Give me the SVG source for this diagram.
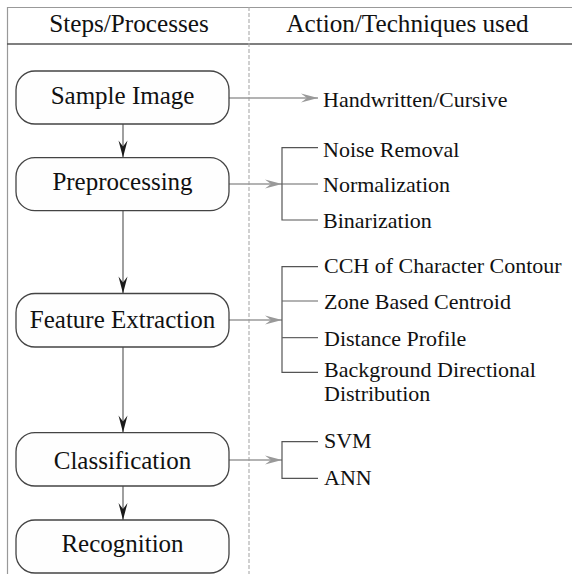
<svg xmlns="http://www.w3.org/2000/svg" width="572" height="574" viewBox="0 0 572 574" font-family="'Liberation Serif', 'Times New Roman', Tinos, 'DejaVu Serif', serif">
<style>
text{font-family:"Liberation Serif","Times New Roman",Tinos,"DejaVu Serif",serif;fill:#111}
.hd{font-size:25.2px;text-anchor:middle}
.bx{font-size:25px;text-anchor:middle}
.it{font-size:22px}
.node rect{fill:#fefefe;stroke:#444;stroke-width:1.3}
.v{stroke:#777;stroke-width:1.4;fill:none;marker-end:url(#dark)}
.h{stroke:#9a9a9a;stroke-width:1.4;fill:none;marker-end:url(#gray)}
.br{stroke:#555;stroke-width:1.2;fill:none}
.bm{stroke:#666;stroke-width:1.2;fill:none}
</style>
<defs>
<marker id="dark" markerUnits="userSpaceOnUse" viewBox="-18 -5 19 10" markerWidth="19" markerHeight="10" refX="0" refY="0" orient="auto">
<path d="M0,0 L-17,-4.5 L-11,0 L-17,4.5 Z" fill="#1a1a1a"/>
</marker>
<marker id="gray" markerUnits="userSpaceOnUse" viewBox="-18 -5 19 10" markerWidth="19" markerHeight="10" refX="0" refY="0" orient="auto">
<path d="M0,0 L-17,-4.5 L-11,0 L-17,4.5 Z" fill="#999"/>
</marker>
</defs>
<rect x="0" y="0" width="572" height="574" fill="#fff"/>
<g id="frame">
<line x1="7" y1="7.5" x2="572" y2="7.5" stroke="#999" stroke-width="1.2"/>
<line x1="7.5" y1="7" x2="7.5" y2="574" stroke="#999" stroke-width="1.2"/>
<line x1="7" y1="44" x2="572" y2="44" stroke="#555" stroke-width="1.3"/>
<line x1="249" y1="7" x2="249" y2="574" stroke="#aaa" stroke-width="1.1" stroke-dasharray="4,2"/>
<text class="hd" x="129" y="32.3">Steps/Processes</text>
<text class="hd" x="407.5" y="32.3">Action/Techniques used</text>
</g>
<g id="connectors">
<line class="v" x1="123" y1="124" x2="123" y2="157.5"/>
<line class="v" x1="123" y1="211" x2="123" y2="293.5"/>
<line class="v" x1="123" y1="347" x2="123" y2="432.5"/>
<line class="v" x1="123" y1="486" x2="123" y2="520"/>
<line class="h" x1="229" y1="98" x2="318" y2="98"/>
<line class="h" x1="229" y1="184" x2="282" y2="184"/>
<line class="h" x1="229" y1="320" x2="282" y2="320"/>
<line class="h" x1="229" y1="460" x2="282" y2="460"/>
<path class="br" d="M318,147.7 H282 V220 H318"/>
<line class="bm" x1="282" y1="184" x2="318" y2="184"/>
<path class="br" d="M318,266.7 H282 V372.3 H318"/>
<line class="bm" x1="282" y1="301" x2="318" y2="301"/>
<line class="bm" x1="282" y1="337.7" x2="318" y2="337.7"/>
<path class="br" d="M318,441.7 H282 V478.3 H318"/>
</g>
<g id="n1" class="node"><rect x="16" y="71" width="213" height="53" rx="19"/><text class="bx" x="122.5" y="104">Sample Image</text></g>
<g id="n2" class="node"><rect x="16" y="157.7" width="213" height="53" rx="19"/><text class="bx" x="122.5" y="189.5">Preprocessing</text></g>
<g id="n3" class="node"><rect x="16" y="293.5" width="213" height="53.5" rx="19"/><text class="bx" x="122.5" y="328">Feature Extraction</text></g>
<g id="n4" class="node"><rect x="16" y="432.7" width="213" height="53.3" rx="19"/><text class="bx" x="122.5" y="469">Classification</text></g>
<g id="n5" class="node"><rect x="16" y="520" width="213" height="53" rx="19"/><text class="bx" x="122.5" y="551.5">Recognition</text></g>
<g id="techniques">
<text class="it" x="323" y="106.7">Handwritten/Cursive</text>
<text class="it" x="323" y="156.7">Noise Removal</text>
<text class="it" x="323" y="192.3">Normalization</text>
<text class="it" x="323" y="227.7">Binarization</text>
<text class="it" x="324" y="273.3">CCH of Character Contour</text>
<text class="it" x="324" y="309">Zone Based Centroid</text>
<text class="it" x="324" y="346">Distance Profile</text>
<text class="it" x="324" y="377.3">Background Directional</text>
<text class="it" x="324" y="400.5">Distribution</text>
<text class="it" x="324" y="448.3">SVM</text>
<text class="it" x="324" y="485">ANN</text>
</g>
</svg>
